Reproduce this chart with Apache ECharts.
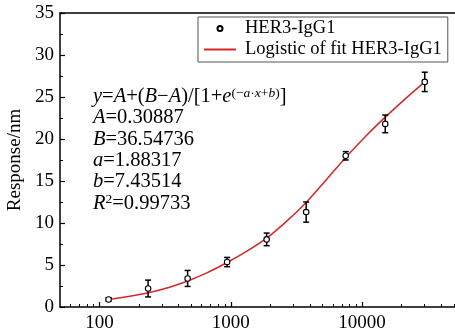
<!DOCTYPE html>
<html>
<head>
<meta charset="utf-8">
<script src="https://cdn.jsdelivr.net/npm/echarts@6/dist/echarts.min.js"></script>
<style>
  html, body { margin: 0; padding: 0; background: #fff; }
  #chart { width: 455px; height: 331px; }
</style>
</head>
<body>
<div id="chart"></div>
<script>
// Binding response of HER3-IgG1 against concentration (2-fold dilution series)
const concentrations = [117.19, 234.38, 468.75, 937.5, 1875, 3750, 7500, 15000, 30000];
const responses      = [0.90, 2.20, 3.40, 5.35, 8.05, 11.30, 18.00, 21.80, 26.80];
const errors         = [0.20, 1.00, 0.95, 0.55, 0.75, 1.20, 0.50, 1.05, 1.15];

// Logistic fit curve, sampled along the concentration range
const fitConcentrations = [117.19, 165.7, 234.38, 331.5, 468.75, 662.9, 937.5, 1325.8, 1875,
                           2651.6, 3750, 5303.3, 7500, 10606.6, 15000, 21213.2, 30000];
const fitResponses      = [0.90, 1.25, 1.70, 2.30, 3.10, 4.10, 5.30, 6.65, 8.20,
                           10.20, 12.45, 15.10, 17.80, 20.30, 22.60, 24.75, 26.80];

// Axis ticks (log10 concentration axis)
const majorTickValues = [100, 1000, 10000];
const minorTickValues = [60, 70, 80, 90, 200, 300, 400, 500, 600, 700, 800, 900,
                         2000, 3000, 4000, 5000, 6000, 7000, 8000, 9000,
                         20000, 30000, 40000, 50000];
const xRange = [50, 51000];

const equationLines = [
  '{i|y}={i|A}+({i|B}−{i|A})/[1+{i|e}{sup|(−}{supi|a}{sup|·}{supi|x}{sup|+}{supi|b}{sup|)}]',
  '{i|A}=0.30887',
  '{i|B}=36.54736',
  '{i|a}=1.88317',
  '{i|b}=7.43514',
  '{i|R}{sup|2}=0.99733'
];

const lg = v => Math.log10(v);
const FONT = '"Liberation Serif", "Times New Roman", serif';

const chart = echarts.init(document.getElementById('chart'), null, { renderer: 'canvas' });

const baseXAxis = {
  type: 'value',
  min: lg(xRange[0]),
  max: lg(xRange[1]),
  splitLine: { show: false },
  axisLine: { show: false },
  axisLabel: { show: false },
  axisTick: { show: false }
};

chart.setOption({
  animation: false,
  backgroundColor: '#fff',
  textStyle: { fontFamily: FONT },
  grid: { left: 60, right: 0, top: 13, bottom: 24, containLabel: false, outerBoundsMode: 'none' },
  xAxis: [
    Object.assign({}, baseXAxis, {
      position: 'bottom',
      axisLine: { show: true, lineStyle: { color: '#000', width: 1.5 } },
      axisTick: {
        show: true, inside: true, length: 5,
        lineStyle: { color: '#000', width: 1.2 },
        customValues: majorTickValues.map(lg)
      },
      axisLabel: {
        show: true, color: '#000', fontSize: 19, fontFamily: FONT, margin: 7,
        customValues: majorTickValues.map(lg),
        formatter: v => String(Math.round(Math.pow(10, v)))
      }
    }),
    Object.assign({}, baseXAxis, {
      position: 'bottom',
      axisTick: {
        show: true, inside: true, length: 3,
        lineStyle: { color: '#000', width: 1 },
        customValues: minorTickValues.map(lg)
      }
    }),
    Object.assign({}, baseXAxis, {
      position: 'top',
      axisLine: { show: true, lineStyle: { color: '#000', width: 1.5 } }
    })
  ],
  yAxis: {
    type: 'value',
    min: 0, max: 35, interval: 5,
    name: 'Response/nm',
    nameLocation: 'middle',
    nameGap: 35,
    nameRotate: 90,
    nameTextStyle: { color: '#000', fontSize: 19, fontFamily: FONT },
    splitLine: { show: false },
    axisLine: { show: true, lineStyle: { color: '#000', width: 1.5 } },
    axisTick: { show: true, inside: true, length: 5, lineStyle: { color: '#000', width: 1.2 } },
    minorTick: { show: true, splitNumber: 2, length: 3, lineStyle: { color: '#000', width: 1 } },
    axisLabel: { color: '#000', fontSize: 19, fontFamily: FONT, margin: 6 }
  },
  legend: {
    orient: 'vertical',
    left: 198, top: 17,
    padding: [1, 6, 2, 5],
    itemGap: 0,
    itemWidth: 32,
    itemHeight: 5,
    borderColor: '#555',
    borderWidth: 1,
    textStyle: { color: '#000', fontSize: 18.5, fontFamily: FONT, lineHeight: 21, padding: [0, 0, 0, 4] },
    data: [
      { name: 'HER3-IgG1' },
      // the fit line shows only its stroke in the legend, without a marker
      { name: 'Logistic of fit HER3-IgG1', itemStyle: { opacity: 0 } }
    ]
  },
  graphic: [{
    type: 'text',
    left: 93, top: 86,
    style: {
      text: equationLines.join('\n'),
      fill: '#000',
      font: '20.5px ' + FONT,
      lineHeight: 21.3,
      rich: {
        i: { fontStyle: 'italic', fontSize: 20.5, fontFamily: FONT, lineHeight: 21.3 },
        sup: { fontSize: 13.5, fontFamily: FONT, verticalAlign: 'top', lineHeight: 14 },
        supi: { fontSize: 13.5, fontStyle: 'italic', fontFamily: FONT, verticalAlign: 'top', lineHeight: 14 }
      }
    }
  }],
  series: [
    {
      name: 'Logistic of fit HER3-IgG1',
      type: 'line',
      smooth: 0.3,
      showSymbol: false,
      symbol: 'none',
      color: '#d7262b',
      lineStyle: { color: '#d7262b', width: 1.5 },
      data: fitConcentrations.map((c, i) => [lg(c), fitResponses[i]]),
      z: 2
    },
    {
      name: 'error',
      type: 'custom',
      data: concentrations.map((c, i) => [lg(c), responses[i] - errors[i], responses[i] + errors[i]]),
      encode: { x: 0, y: [1, 2] },
      renderItem: function (params, api) {
        const x = api.value(0);
        const lo = api.coord([x, api.value(1)]);
        const hi = api.coord([x, api.value(2)]);
        const cap = 3;
        const style = { stroke: '#000', lineWidth: 1.5 };
        return {
          type: 'group',
          children: [
            { type: 'line', shape: { x1: lo[0], y1: lo[1], x2: hi[0], y2: hi[1] }, style },
            { type: 'line', shape: { x1: lo[0] - cap, y1: lo[1], x2: lo[0] + cap, y2: lo[1] }, style },
            { type: 'line', shape: { x1: hi[0] - cap, y1: hi[1], x2: hi[0] + cap, y2: hi[1] }, style }
          ]
        };
      },
      z: 3
    },
    {
      name: 'HER3-IgG1',
      type: 'scatter',
      symbol: 'circle',
      symbolSize: 5.5,
      itemStyle: { color: '#fff', borderColor: '#000', borderWidth: 1.1, opacity: 1 },
      data: concentrations.map((c, i) => [lg(c), responses[i]]),
      z: 4
    }
  ]
});
</script>
</body>
</html>
